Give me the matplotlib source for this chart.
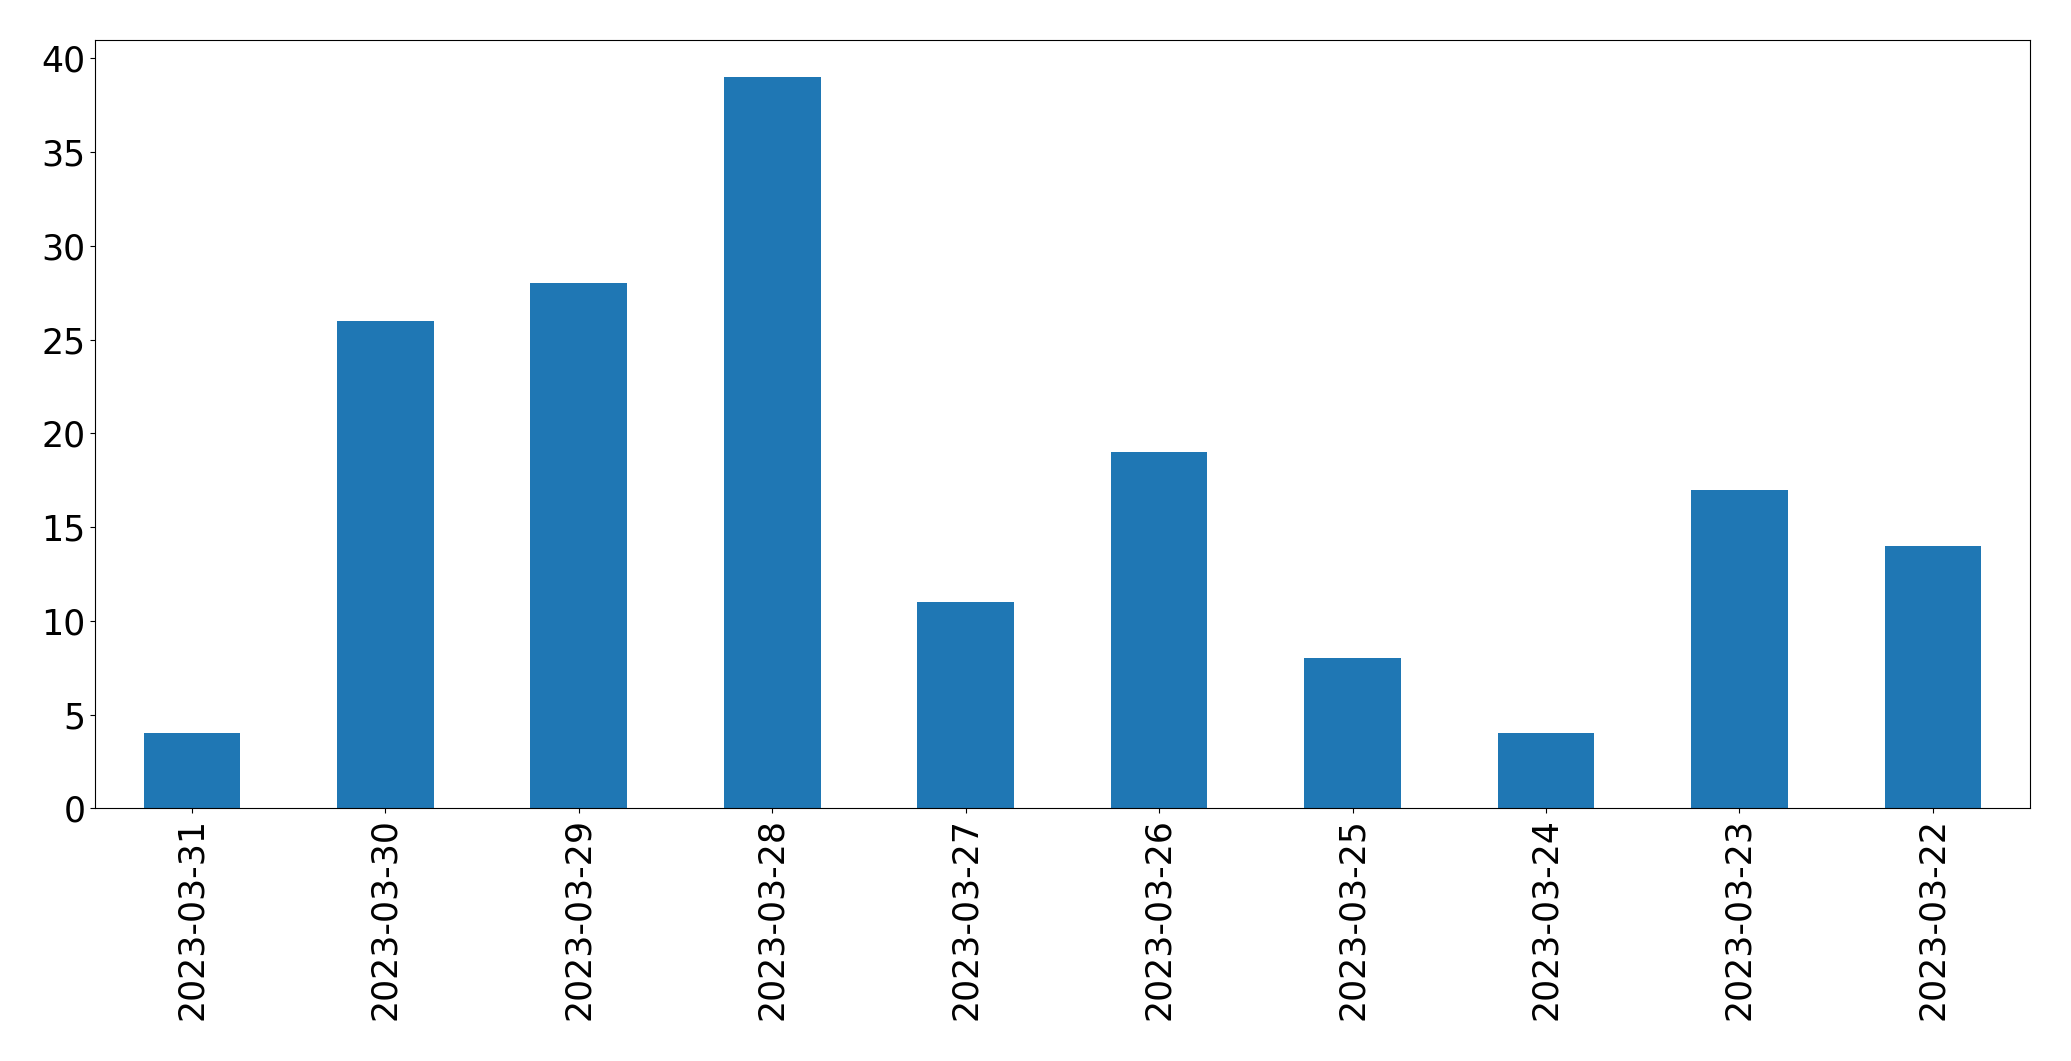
import matplotlib
matplotlib.use("Agg")
import matplotlib.pyplot as plt
import pandas as pd

dates = ["2023-03-31", "2023-03-30", "2023-03-29", "2023-03-28", "2023-03-27",
         "2023-03-26", "2023-03-25", "2023-03-24", "2023-03-23", "2023-03-22"]
counts = [4, 26, 28, 39, 11, 19, 8, 4, 17, 14]

s = pd.Series(counts, index=dates)

fig, ax = plt.subplots(figsize=(20.71, 10.61), dpi=100)
s.plot(kind="bar", ax=ax, color="#1f77b4", fontsize=25)
ax.tick_params(labelsize=25)
fig.subplots_adjust(left=0.046, right=0.98, top=0.962, bottom=0.238)
fig.savefig("out.png", dpi=100)
